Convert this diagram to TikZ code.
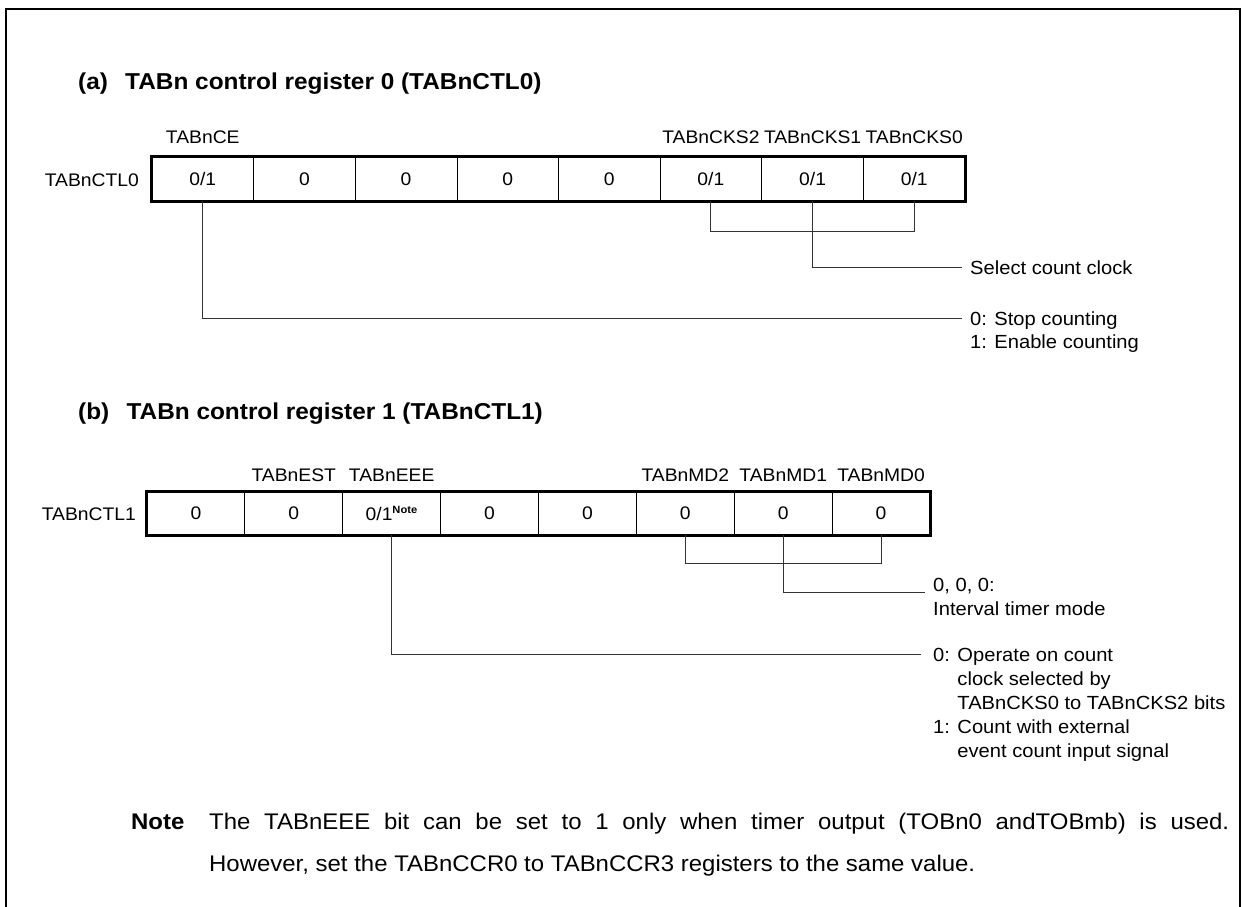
\documentclass[tikz,border=0pt]{standalone}
\usepackage{fontspec}
\setmainfont[FakeStretch=1.06]{Liberation Sans}
\begin{document}
\begin{tikzpicture}[x=1pt,y=-1pt,
  font=\fontsize{18.2}{24.3}\selectfont,
  framestyle/.style={line width=2.5pt},
  regbox/.style={line width=2.6pt},
  cella/.style={draw, line width=0.8pt, minimum width=101.6pt, minimum height=44pt, inner sep=0},
  cellb/.style={draw, line width=0.8pt, minimum width=97.9pt, minimum height=43pt, inner sep=0},
  conn/.style={line width=1pt, black!80},
  lbl/.style={inner sep=0, anchor=base},
  txt/.style={inner sep=0, anchor=base west, font=\fontsize{19}{24.3}\selectfont},
  notefont/.style={font=\fontsize{22.6}{24}\selectfont},
  notebold/.style={font=\fontsize{22.6}{24}\selectfont\bfseries},
  ttl/.style={inner sep=0, anchor=base west, font=\fontsize{23}{24}\selectfont\bfseries}]
\useasboundingbox (0,0) rectangle (1242,907);
\draw[framestyle] (6,907) -- (6,9) -- (1240,9) -- (1240,907);

% ---------- (a) ----------
\node[ttl] (ta) at (78,89) {(a)\hspace{0.75em}TABn control register 0 (TABnCTL0)};
\node[lbl, anchor=base east] (ra) at (139,186) {TABnCTL0};
\node[cella] (a0) at (202.8,179) {0/1};
\node[cella] (a1) at (304.4,179) {0};
\node[cella] (a2) at (406.1,179) {0};
\node[cella] (a3) at (507.7,179) {0};
\node[cella] (a4) at (609.3,179) {0};
\node[cella] (a5) at (710.9,179) {0/1};
\node[cella] (a6) at (812.6,179) {0/1};
\node[cella] (a7) at (914.2,179) {0/1};
\draw[regbox] (a0.north west) rectangle (a7.south east);
\node[lbl] (la0) at (a0.center |- 0,143) {TABnCE};
\node[lbl] (la5) at (a5.center |- 0,143) {TABnCKS2};
\node[lbl] (la6) at (a6.center |- 0,143) {TABnCKS1};
\node[lbl] (la7) at (a7.center |- 0,143) {TABnCKS0};

\node[txt] (sel) at (970,274) {Select count clock};
\node[txt] (stop) at (970,325) {0: Stop counting};
\node[txt] (enab) at (970,348) {1: Enable counting};
\coordinate (selend) at (962,267);
\coordinate (stopend) at (962,318);
\draw[conn] (a5.south) -- (a5.south |- 0,231) -- (a7.south |- 0,231) -- (a7.south);
\draw[conn] (a6.south) |- (selend);
\draw[conn] (a0.south) |- (stopend);

% ---------- (b) ----------
\node[ttl] (tb) at (78,419) {(b)\hspace{0.75em}TABn control register 1 (TABnCTL1)};
\node[lbl, anchor=base east] (rb) at (136,520.5) {TABnCTL1};
\node[cellb] (b0) at (195.9,513.5) {0};
\node[cellb] (b1) at (293.8,513.5) {0};
\node[cellb] (b2) at (391.7,513.5) {0/1\textsuperscript{\bfseries\fontsize{10.5}{10}\selectfont Note}};
\node[cellb] (b3) at (489.6,513.5) {0};
\node[cellb] (b4) at (587.4,513.5) {0};
\node[cellb] (b5) at (685.3,513.5) {0};
\node[cellb] (b6) at (783.2,513.5) {0};
\node[cellb] (b7) at (881.1,513.5) {0};
\draw[regbox] (b0.north west) rectangle (b7.south east);
\node[lbl] (lb1) at (b1.center |- 0,481) {TABnEST};
\node[lbl] (lb2) at (b2.center |- 0,481) {TABnEEE};
\node[lbl] (lb5) at (b5.center |- 0,481) {TABnMD2};
\node[lbl] (lb6) at (b6.center |- 0,481) {TABnMD1};
\node[lbl] (lb7) at (b7.center |- 0,481) {TABnMD0};

\node[txt] (md1) at (933,591) {0, 0, 0:};
\node[txt] (md2) at (933,615) {Interval timer mode};
\node[txt] (ee1) at (933,661) {0: Operate on count};
\node[txt] (ee2) at (933,685) {\phantom{0: }clock selected by};
\node[txt] (ee3) at (933,709) {\phantom{0: }TABnCKS0 to TABnCKS2 bits};
\node[txt] (ee4) at (933,733) {1: Count with external};
\node[txt] (ee5) at (933,757) {\phantom{1: }event count input signal};
\coordinate (mdend) at (925,592);
\coordinate (eeend) at (921,654);
\draw[conn] (b5.south) -- (b5.south |- 0,563) -- (b7.south |- 0,563) -- (b7.south);
\draw[conn] (b6.south) |- (mdend);
\draw[conn] (b2.south) |- (eeend);

% ---------- Note ----------
\node[txt, notebold] (note) at (131,829) {Note};
\node[txt, notefont] (n1) at (209,829) {\makebox[1020pt][s]{The TABnEEE bit can be set to 1 only when timer output (TOBn0 andTOBmb) is used.}};
\node[txt, notefont] (n2) at (209,871) {However, set the TABnCCR0 to TABnCCR3 registers to the same value.};
\end{tikzpicture}
\end{document}
